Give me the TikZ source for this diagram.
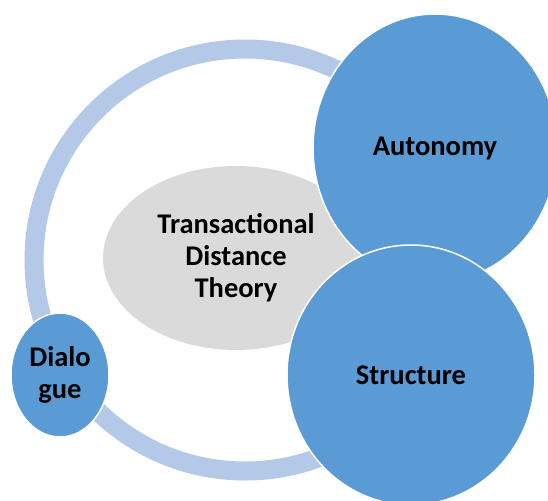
\documentclass[tikz,border=0pt]{standalone}
\usepackage{fontspec}
\setmainfont{Carlito}
\usetikzlibrary{shapes.geometric}
\definecolor{ringblue}{HTML}{B4C8E7}
\definecolor{midblue}{HTML}{5B9BD5}
\definecolor{lightgray}{HTML}{DADADA}
\tikzset{
  bubble/.style={ellipse, fill=midblue, draw=white, line width=1.5pt, inner sep=0pt, align=center,
    font=\fontsize{28.5}{32}\selectfont\bfseries, text=black},
  core/.style={ellipse, fill=lightgray, draw=none, inner sep=0pt, align=center,
    font=\fontsize{28.5}{32}\selectfont\bfseries, text=black},
  ringstyle/.style={circle, draw=ringblue, line width=19pt, inner sep=0pt, fill=none}
}
\begin{document}
\begin{tikzpicture}[x=1pt, y=-1pt]
\useasboundingbox (0,0) rectangle (548,500);
\clip (0,0) rectangle (548,500);
\fill[white] (0,0) rectangle (548,500);
\node[ringstyle, minimum size=422pt] (ring) at (245,260) {};
\node[core, minimum width=266pt, minimum height=184pt] (tdt) at (236,258) {Transactional\\Distance\\Theory};
\node[bubble, minimum width=244pt, minimum height=268pt] (autonomy) at (435,148) {Autonomy};
\node[bubble, minimum width=248pt, minimum height=260pt] (structure) at (411,375) {Structure};
\node[bubble, minimum width=98pt, minimum height=124pt] (dialogue) at (60,375) {Dialo\\gue};
\end{tikzpicture}
\end{document}
